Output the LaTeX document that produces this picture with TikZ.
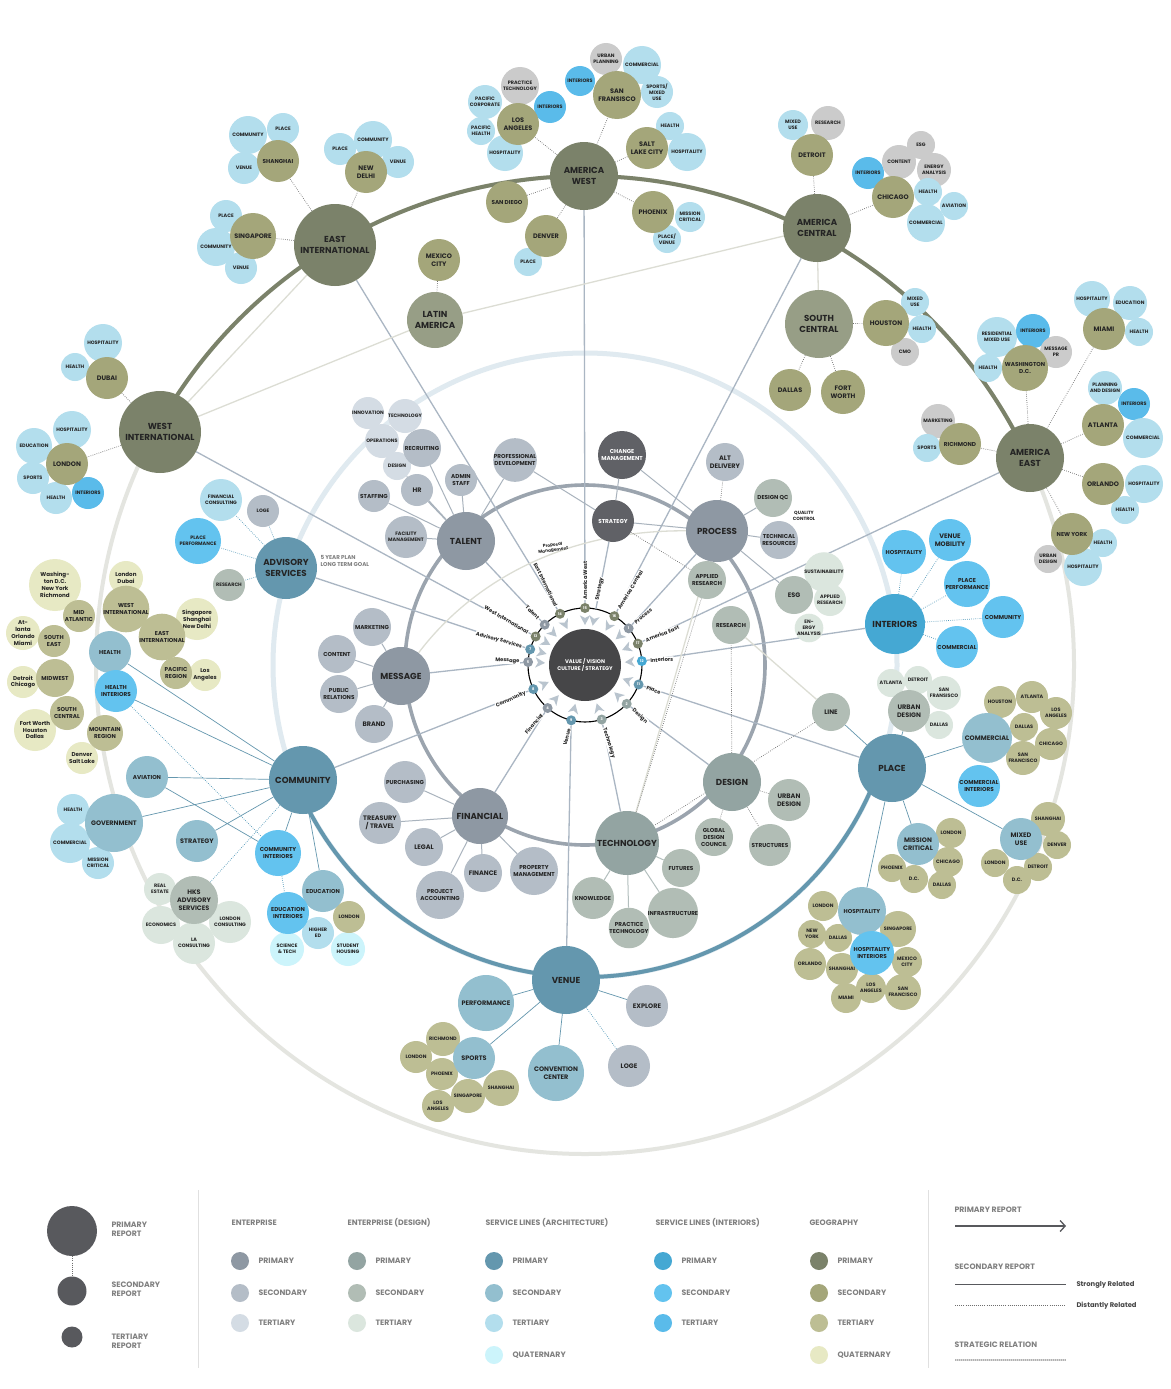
\documentclass[tikz,border=0pt]{standalone}
\usepackage{fontspec}
\setmainfont{Poppins}
\usetikzlibrary{arrows.meta}
\definecolor{entP}{HTML}{8E98A3}
\definecolor{entS}{HTML}{B4BDC7}
\definecolor{entT}{HTML}{D4DCE4}
\definecolor{desP}{HTML}{93A4A2}
\definecolor{desS}{HTML}{B1BDB5}
\definecolor{desT}{HTML}{DBE6DE}
\definecolor{arcP}{HTML}{6497AE}
\definecolor{arcS}{HTML}{93BFCF}
\definecolor{arcT}{HTML}{B3DEED}
\definecolor{arcQ}{HTML}{CCF4FB}
\definecolor{intP}{HTML}{45A8D3}
\definecolor{intS}{HTML}{63C3EF}
\definecolor{intT}{HTML}{5ABBEA}
\definecolor{geoP}{HTML}{7B826A}
\definecolor{geoL}{HTML}{979E86}
\definecolor{geoS}{HTML}{A4A67A}
\definecolor{geoT}{HTML}{BDBE94}
\definecolor{geoQ}{HTML}{E7E9C4}
\definecolor{gryT}{HTML}{CBCBCB}
\definecolor{dkG}{HTML}{606166}
\definecolor{hubC}{HTML}{464648}
\definecolor{txt}{HTML}{242424}
\definecolor{lgC}{HTML}{58595D}
\definecolor{lgT}{HTML}{808080}
\definecolor{ringO}{HTML}{E4E5E0}
\definecolor{ringB}{HTML}{E0EAF0}
\definecolor{ringE}{HTML}{9BA4AE}
\definecolor{lineE}{HTML}{A9B3BD}
\definecolor{lineP}{HTML}{AAB6C3}
\definecolor{lineF}{HTML}{DCDDD4}
\definecolor{lineD}{HTML}{6E6E6E}
\definecolor{lineB}{HTML}{4F97B8}
\definecolor{arrC}{HTML}{B9C4CE}
\pgfdeclarelayer{back}
\pgfdeclarelayer{mid}
\pgfsetlayers{back,mid,main}
\tikzset{
  bub/.style={circle,inner sep=0pt,align=center,text=txt},
  fT/.style={font=\bfseries\fontsize{4.9}{6.1}\selectfont},
  fS/.style={font=\bfseries\fontsize{5.7}{7}\selectfont},
  f3/.style={font=\bfseries\fontsize{6.5}{8.1}\selectfont},
  f5/.style={font=\bfseries\fontsize{8.7}{11.2}\selectfont},
  fQ/.style={font=\bfseries\fontsize{5.6}{6.9}\selectfont},
  dl/.style={draw=lineD,line width=0.7pt,dash pattern=on 0.7pt off 1.4pt},
  bl/.style={draw=lineB,line width=0.7pt,dash pattern=on 0.7pt off 1.4pt},
  el/.style={draw=lineE,line width=1pt},
  gl/.style={draw=desP!70,line width=1pt},
  al/.style={draw=arcP,line width=0.7pt},
  fl/.style={draw=lineF,line width=1.3pt},
  pl/.style={draw=lineP,line width=1.3pt},
  hdot/.style={circle,inner sep=0pt,minimum size=10pt,text=white,font=\bfseries\fontsize{3.6}{3.6}\selectfont},
  hlab/.style={fill=white,inner sep=0.5pt,text=txt,font=\bfseries\fontsize{5.2}{5.8}\selectfont},
  lt/.style={anchor=west,align=left,text=lgT,font=\bfseries\fontsize{7.8}{9.4}\selectfont},
  ls/.style={anchor=west,align=left,text=txt!85,font=\bfseries\fontsize{6.8}{8}\selectfont},
  ldot/.style={circle,inner sep=0pt,minimum size=18pt},
}
\newcommand\B[6][fT]{\node[bub,#1,fill=#5,minimum size=2*#4pt] (#2) at (#3) {#6};}
\newcommand\HR[6]{%
  \node[hdot,fill=#3] (#2) at ([shift={(#1:57)}]585,-665) {#4};
  \node[hlab,rotate=#1,anchor=west] (#2l) at ([shift={(#1:65)}]585,-665) {#5};
  \begin{pgfonlayer}{mid}\draw[pl] (#6) -- (#2);\end{pgfonlayer}}
\newcommand\HL[6]{%
  \node[hdot,fill=#3] (#2) at ([shift={(#1:57)}]585,-665) {#4};
  \node[hlab,rotate=#1-180,anchor=east] (#2l) at ([shift={(#1:65)}]585,-665) {#5};
  \begin{pgfonlayer}{mid}\draw[pl] (#6) -- (#2);\end{pgfonlayer}}
\begin{document}
\begin{tikzpicture}[x=1pt,y=1pt]
\useasboundingbox (0,0) rectangle (1170,-1389);
\begin{pgfonlayer}{back}
  \fill[white] (0,0) rectangle (1170,-1389);
  \draw[ringO,line width=4pt] (585,-665) circle[radius=489];
  \draw[geoP,line width=4pt] ([shift={(151.4:489)}]585,-665) arc[start angle=151.4,end angle=25,radius=489];
  \draw[ringB,line width=5pt] (585,-665) circle[radius=312];
  \draw[arcP,line width=4pt] ([shift={(202.4:312)}]585,-665) arc[start angle=202.4,end angle=341.5,radius=312];
  \draw[ringE,line width=3.6pt] (585,-665) circle[radius=180];
\end{pgfonlayer}

% ---------- East International
\B{eiShC}{248,-135}{19}{arcT}{COMMUNITY}
\B{eiShP}{283,-129}{16}{arcT}{PLACE}
\B{eiShV}{244,-168}{16}{arcT}{VENUE}
\B[fS]{eiSh}{278,-161}{21}{geoS}{SHANGHAI}
\B{eiNdP}{340,-149}{16}{arcT}{PLACE}
\B{eiNdC}{373,-140}{19}{arcT}{COMMUNITY}
\B{eiNdV}{398,-162}{16}{arcT}{VENUE}
\B[f3]{eiNd}{366,-172}{21}{geoS}{NEW\\DELHI}
\B{eiSgP}{226,-216}{16}{arcT}{PLACE}
\B{eiSgC}{216,-247}{19}{arcT}{COMMUNITY}
\B{eiSgV}{241,-268}{16}{arcT}{VENUE}
\B[f3]{eiSg}{253,-236}{23}{geoS}{SINGAPORE}
\B[f5]{EI}{335,-245}{41}{geoP}{EAST\\INTERNATIONAL}

% ---------- America West
\B{awLaPC}{485,-102}{17}{arcT}{PACIFIC\\CORPORATE}
\B{awLaPT}{520,-86}{19}{gryT}{PRACTICE\\TECHNOLOGY}
\B{awLaI}{550,-107}{16}{intT}{INTERIORS}
\B{awLaPH}{481,-131}{14}{arcT}{PACIFIC\\HEALTH}
\B{awLaH}{505,-153}{18}{arcT}{HOSPITALITY}
\B[f3]{awLa}{518,-124}{21}{geoS}{LOS\\ANGELES}
\B{awSfU}{606,-59}{16}{gryT}{URBAN\\PLANNING}
\B{awSfC}{642,-65}{19}{arcT}{COMMERCIAL}
\B{awSfI}{580,-81}{15}{intT}{INTERIORS}
\B{awSfS}{657,-92}{16}{arcT}{SPORTS/\\MIXED\\USE}
\B[f3]{awSf}{617,-95}{24}{geoS}{SAN\\FRANSISCO}
\B{awSlH}{670,-126}{14}{arcT}{HEALTH}
\B{awSlHo}{687,-152}{19}{arcT}{HOSPITALITY}
\B[f3]{awSl}{647,-148}{21}{geoS}{SALT\\LAKE CITY}
\B[fS]{awSd}{507,-202}{21}{geoS}{SAN DIEGO}
\B{awDeP}{528,-262}{14}{arcT}{PLACE}
\B[f3]{awDe}{546,-236}{21}{geoS}{DENVER}
\B{awPhM}{690,-217}{15}{arcT}{MISSION\\CRITICAL}
\B{awPhP}{667,-239}{14}{arcT}{PLACE/\\VENUE}
\B[f3]{awPh}{653,-212}{21}{geoS}{PHOENIX}
\B[f5]{AW}{584,-176}{34}{geoP}{AMERICA\\WEST}

% ---------- Latin America
\B[f3]{mxc}{439,-260}{21}{geoS}{MEXICO\\CITY}
\B[f5]{LA}{435,-320}{28}{geoL}{LATIN\\AMERICA}

% ---------- America Central
\B{acDeM}{793,-125}{15}{arcT}{MIXED\\USE}
\B{acDeR}{828,-123}{17}{gryT}{RESEARCH}
\B[f3]{acDe}{812,-155}{21}{geoS}{DETROIT}
\B{acChI}{868,-173}{16}{intT}{INTERIORS}
\B{acChE}{921,-145}{14}{gryT}{ESG}
\B{acChC}{899,-162}{17}{gryT}{CONTENT}
\B{acChEA}{934,-170}{17}{gryT}{ENERGY\\ANALYSIS}
\B{acChA}{954,-206}{14}{arcT}{AVIATION}
\B{acChCo}{926,-223}{19}{arcT}{COMMERCIAL}
\B{acChH}{928,-192}{14}{arcT}{HEALTH}
\B[f3]{acCh}{893,-197}{21}{geoS}{CHICAGO}
\B[f5]{AC}{817,-228}{34}{geoP}{AMERICA\\CENTRAL}
\B{scHoM}{915,-302}{14}{arcT}{MIXED\\USE}
\B{scHoH}{922,-329}{14}{arcT}{HEALTH}
\B{scHoC}{905,-352}{14}{gryT}{CMO}
\B[f3]{scHo}{886,-323}{23}{geoS}{HOUSTON}
\B[f3]{scDa}{790,-390}{21}{geoS}{DALLAS}
\B[f3]{scFw}{843,-392}{22}{geoS}{FORT\\WORTH}
\B[f5]{SC}{819,-324}{34}{geoL}{SOUTH\\CENTRAL}

% ---------- America East
\B{aeDcR}{997,-337}{20}{arcT}{RESIDENTIAL\\MIXED USE}
\B{aeDcI}{1033,-331}{17}{intT}{INTERIORS}
\B{aeDcM}{1056,-352}{16}{gryT}{MESSAGE\\PR}
\B{aeDcH}{988,-368}{14}{arcT}{HEALTH}
\B[fS]{aeDc}{1025,-368}{23}{geoS}{WASHINGTON\\D.C.}
\B{aeMiH}{1092,-299}{18}{arcT}{HOSPITALITY}
\B{aeMiE}{1130,-303}{17}{arcT}{EDUCATION}
\B{aeMiHe}{1139,-332}{14}{arcT}{HEALTH}
\B[f3]{aeMi}{1104,-329}{21}{geoS}{MIAMI}
\B{aeAtP}{1105,-388}{17}{arcT}{PLANNING\\AND DESIGN}
\B{aeAtI}{1134,-404}{16}{intT}{INTERIORS}
\B{aeAtC}{1143,-438}{20}{arcT}{COMMERCIAL}
\B[f3]{aeAt}{1103,-425}{21}{geoS}{ATLANTA}
\B{aeOrH}{1144,-484}{19}{arcT}{HOSPITALITY}
\B{aeOrHe}{1125,-510}{14}{arcT}{HEALTH}
\B[f3]{aeOr}{1103,-484}{21}{geoS}{ORLANDO}
\B{aeNyH}{1103,-543}{14}{arcT}{HEALTH}
\B{aeNyHo}{1083,-567}{19}{arcT}{HOSPITALITY}
\B{aeNyU}{1048,-559}{14}{gryT}{URBAN\\DESIGN}
\B[fS]{aeNy}{1072,-534}{21}{geoS}{NEW YORK}
\B{aeRiM}{938,-421}{17}{gryT}{MARKETING}
\B{aeRiS}{927,-448}{14}{arcT}{SPORTS}
\B[fS]{aeRi}{960,-444}{21}{geoS}{RICHMOND}
\B[f5]{AE}{1030,-458}{34}{geoP}{AMERICA\\EAST}

% ---------- West International
\B{wiDuH}{103,-343}{19}{arcT}{HOSPITALITY}
\B{wiDuHe}{75,-367}{14}{arcT}{HEALTH}
\B[f3]{wiDu}{107,-378}{21}{geoS}{DUBAI}
\B{wiLoHo}{72,-430}{19}{arcT}{HOSPITALITY}
\B{wiLoE}{34,-446}{18}{arcT}{EDUCATION}
\B{wiLoS}{33,-478}{16}{arcT}{SPORTS}
\B{wiLoH}{56,-498}{16}{arcT}{HEALTH}
\B{wiLoI}{88,-493}{16}{intT}{INTERIORS}
\B[f3]{wiLo}{67,-464}{21}{geoS}{LONDON}
\B[f5]{WI}{160,-432}{41}{geoP}{WEST\\INTERNATIONAL}

% ---------- Advisory services
\B{avFC}{221,-500}{21}{arcT}{FINANCIAL\\CONSULTING}
\B{avLo}{263,-511}{16}{entS}{LOGE}
\B{avPP}{198,-541}{23}{intS}{PLACE\\PERFORMANCE}
\B{avRe}{229,-585}{16}{desS}{RESEARCH}
\B[f5]{ADV}{286,-568}{31}{arcP}{ADVISORY\\SERVICES}
\node[anchor=west,align=left,text=lgT,font=\bfseries\fontsize{5.6}{7}\selectfont] (advNote) at (317,-561) {5 YEAR PLAN\\LONG TERM GOAL};

% ---------- geography regions (left)
\B[fQ]{gq1}{55,-585}{26}{geoQ}{Washing-\\ton D.C.\\New York\\Richmond}
\B[fQ]{gq2}{126,-578}{17}{geoQ}{London\\Dubai}
\B[fQ]{gq3}{197,-619}{21}{geoQ}{Singapore\\Shanghai\\New Delhi}
\B[fQ]{gq4}{23,-633}{17}{geoQ}{At-\\lanta\\Orlando\\Miami}
\B[fQ]{gq5}{23,-682}{16}{geoQ}{Detroit\\Chicago}
\B[fQ]{gq6}{205,-675}{16}{geoQ}{Los\\Angeles}
\B[fQ]{gq7}{35,-730}{21}{geoQ}{Fort Worth\\Houston\\Dallas}
\B[fQ]{gq8}{82,-758}{16}{geoQ}{Denver\\Salt Lake}
\B[fS]{gt1}{79,-616}{16}{geoT}{MID\\ATLANTIC}
\B[fS]{gt2}{126,-609}{20}{geoT}{WEST\\INTERNATIONAL}
\B[fS]{gt3}{162,-637}{20}{geoT}{EAST\\INTERNATIONAL}
\B[fS]{gt4}{54,-641}{16}{geoT}{SOUTH\\EAST}
\B[fS]{gt5}{55,-678}{19}{geoT}{MIDWEST}
\B[fS]{gt6}{176,-673}{16}{geoT}{PACIFIC\\REGION}
\B[fS]{gt7}{67,-713}{17}{geoT}{SOUTH\\CENTRAL}
\B[fS]{gt8}{105,-733}{18}{geoT}{MOUNTAIN\\REGION}

% ---------- Community
\B[fS]{cmHe}{110,-652}{21}{arcS}{HEALTH}
\B[fS]{cmHI}{116,-691}{21}{intS}{HEALTH\\INTERIORS}
\B[fS]{cmAv}{147,-777}{21}{arcS}{AVIATION}
\B{cmGoH}{73,-810}{16}{arcT}{HEALTH}
\B{cmGoC}{70,-843}{20}{arcT}{COMMERCIAL}
\B{cmGoM}{98,-863}{16}{arcT}{MISSION\\CRITICAL}
\B[f3]{cmGo}{114,-823}{29}{arcS}{GOVERNMENT}
\B[f3]{cmSt}{197,-841}{21}{arcS}{STRATEGY}
\B[fS]{cmCI}{278,-853}{23}{intS}{COMMUNITY\\INTERIORS}
\B{cmHE}{318,-933}{16}{arcT}{HIGHER\\ED}
\B{cmST}{287,-949}{17}{arcQ}{SCIENCE\\\& TECH}
\B{cmSH}{348,-949}{17}{arcQ}{STUDENT\\HOUSING}
\B{cmLo}{349,-917}{16}{geoT}{LONDON}
\B[fS]{cmEd}{323,-891}{21}{arcS}{EDUCATION}
\B[fS]{cmEI}{288,-913}{21}{intS}{EDUCATION\\INTERIORS}
\B{hkRE}{160,-889}{16}{desT}{REAL\\ESTATE}
\B{hkEc}{161,-925}{19}{desT}{ECONOMICS}
\B{hkLC}{230,-922}{21}{desT}{LONDON\\CONSULTING}
\B{hkLA}{194,-943}{21}{desT}{LA\\CONSULTING}
\B[f3]{hk}{194,-900}{24}{desS}{HKS\\ADVISORY\\SERVICES}
\B[f5]{CM}{303,-780}{34}{arcP}{COMMUNITY}

% ---------- Talent
\B{tInn}{368,-413}{16}{entT}{INNOVATION}
\B{tTec}{405,-416}{17}{entT}{TECHNOLOGY}
\B{tOps}{382,-441}{17}{entT}{OPERATIONS}
\B{tDes}{397,-466}{14}{entT}{DESIGN}
\B[fS]{tRec}{422,-448}{19}{entS}{RECRUITING}
\B[fS]{tAd}{461,-480}{16}{entS}{ADMIN\\STAFF}
\B[f3]{tHR}{417,-490}{16}{entS}{HR}
\B[fS]{tSt}{374,-496}{16}{entS}{STAFFING}
\B[fT]{tFM}{406,-537}{21}{entS}{FACILITY\\MANAGEMENT}
\B[fS]{tPD}{515,-460}{21}{entS}{PROFESSIONAL\\DEVELOPMENT}
\B[f5]{TA}{466,-541}{29}{entP}{TALENT}

% ---------- Message
\B[fS]{mMk}{372,-627}{19}{entS}{MARKETING}
\B[fS]{mCo}{337,-654}{19}{entS}{CONTENT}
\B[fS]{mPR}{339,-694}{19}{entS}{PUBLIC\\RELATIONS}
\B[f3]{mBr}{374,-724}{19}{entS}{BRAND}
\B[f5]{ME}{401,-676}{29}{entP}{MESSAGE}

% ---------- Financial
\B[fS]{fPu}{405,-782}{21}{entS}{PURCHASING}
\B[f3]{fTr}{380,-823}{21}{entS}{TREASURY\\/ TRAVEL}
\B[f3]{fLe}{424,-847}{19}{entS}{LEGAL}
\B[fS]{fPA}{440,-895}{24}{entS}{PROJECT\\ACCOUNTING}
\B[f3]{fFi}{483,-873}{19}{entS}{FINANCE}
\B[fS]{fPM}{534,-871}{24}{entS}{PROPERTY\\MANAGEMENT}
\B[f5]{FI}{480,-816}{28}{entP}{FINANCIAL}

% ---------- Technology
\B[fS]{tcKn}{593,-898}{21}{desS}{KNOWLEDGE}
\B[fS]{tcPT}{629,-928}{19}{desS}{PRACTICE\\TECHNOLOGY}
\B[fS]{tcIn}{673,-913}{21}{desS}{INFRASTRUCTURE}
\B[fS]{tcFu}{681,-868}{19}{desS}{FUTURES}
\B[fS]{tcGD}{714,-837}{19}{desS}{GLOBAL\\DESIGN\\COUNCIL}
\B[f5]{TE}{627,-843}{32}{desP}{TECHNOLOGY}

% ---------- Design
\B[f3]{dUD}{789,-800}{21}{desS}{URBAN\\DESIGN}
\B[fS]{dSt}{770,-845}{21}{desS}{STRUCTURES}
\B[fS]{dRe}{731,-625}{19}{desS}{RESEARCH}
\B[f5]{DE}{732,-782}{29}{desP}{DESIGN}

% ---------- Process
\B[f3]{pAD}{725,-462}{19}{entS}{ALT\\DELIVERY}
\B[fS]{pQC}{773,-498}{19}{desS}{DESIGN QC}
\B[fS]{pTR}{779,-540}{19}{entS}{TECHNICAL\\RESOURCES}
\node[align=center,text=txt,font=\bfseries\fontsize{4.6}{5.6}\selectfont] (qc) at (804,-516) {QUALITY\\CONTROL};
\B[fS]{pAR}{707,-580}{19}{desS}{APPLIED\\RESEARCH}
\B{esS}{824,-572}{15}{desT}{SUSTAINABILITY}
\B{esA}{830,-600}{16}{desT}{APPLIED\\RESEARCH}
\B{esE}{809,-628}{14}{desT}{EN-\\ERGY\\ANALYSIS}
\B[f3]{pES}{794,-595}{19}{desS}{ESG}
\B[fS,text=white]{cMg}{622,-455}{24}{dkG}{CHANGE\\MANAGEMENT}
\B[fS,text=white]{sTr}{613,-521}{21}{dkG}{STRATEGY}
\B[f5]{PR}{717,-531}{31}{entP}{PROCESS}

% ---------- Interiors
\B[fS]{iHo}{904,-552}{22}{intS}{HOSPITALITY}
\B[f3]{iVM}{950,-540}{21}{intS}{VENUE\\MOBILITY}
\B[fS]{iPP}{967,-584}{23}{intS}{PLACE\\PERFORMANCE}
\B[fS]{iCo}{1003,-617}{21}{intS}{COMMUNITY}
\B[fS]{iCm}{957,-647}{21}{intS}{COMMERCIAL}
\B[f5]{IN}{895,-624}{30}{intP}{INTERIORS}

% ---------- Place
\B[f3]{plLi}{831,-712}{19}{desS}{LINE}
\B{plUa}{891,-683}{14}{desT}{ATLANTA}
\B{plUd}{918,-680}{14}{desT}{DETROIT}
\B{plUs}{944,-693}{17}{desT}{SAN\\FRANSISCO}
\B{plUl}{939,-725}{14}{desT}{DALLAS}
\B[f3]{plUD}{909,-711}{21}{desS}{URBAN\\DESIGN}
\B{plCh}{1000,-702}{16}{geoT}{HOUSTON}
\B{plCa}{1032,-697}{16}{geoT}{ATLANTA}
\B{plCl}{1056,-713}{16}{geoT}{LOS\\ANGELES}
\B{plCd}{1024,-727}{14}{geoT}{DALLAS}
\B{plCc}{1051,-744}{16}{geoT}{CHICAGO}
\B{plCs}{1023,-758}{17}{geoT}{SAN\\FRANCISCO}
\B[f3]{plCo}{987,-738}{25}{arcS}{COMMERCIAL}
\B[fS]{plCI}{979,-786}{21}{intS}{COMMERCIAL\\INTERIORS}
\B{plMl}{951,-833}{15}{geoT}{LONDON}
\B{plMc}{948,-862}{15}{geoT}{CHICAGO}
\B{plMp}{892,-868}{14}{geoT}{PHOENIX}
\B{plMd}{914,-879}{14}{geoT}{D.C.}
\B{plMa}{942,-885}{14}{geoT}{DALLAS}
\B[f3]{plMC}{918,-844}{21}{arcS}{MISSION\\CRITICAL}
\B{plXs}{1048,-819}{17}{geoT}{SHANGHAI}
\B{plXd}{1057,-845}{14}{geoT}{DENVER}
\B{plXt}{1038,-867}{14}{geoT}{DETROIT}
\B{plXc}{1017,-880}{14}{geoT}{D.C.}
\B{plXl}{995,-863}{14}{geoT}{LONDON}
\B[f3]{plMU}{1021,-839}{21}{arcS}{MIXED\\USE}
\B{plHl}{823,-906}{15}{geoT}{LONDON}
\B{plHn}{812,-934}{14}{geoT}{NEW\\YORK}
\B{plHd}{838,-938}{14}{geoT}{DALLAS}
\B{plHs}{898,-929}{18}{geoT}{SINGAPORE}
\B{plHo}{810,-964}{16}{geoT}{ORLANDO}
\B{plHsh}{842,-969}{16}{geoT}{SHANGHAI}
\B{plHm}{907,-962}{15}{geoT}{MEXICO\\CITY}
\B{plHla}{871,-988}{15}{geoT}{LOS\\ANGELES}
\B{plHsf}{903,-992}{18}{geoT}{SAN\\FRANCISCO}
\B{plHmi}{846,-998}{15}{geoT}{MIAMI}
\B[fS]{plHo2}{862,-911}{24}{arcS}{HOSPITALITY}
\B[fS]{plHI}{872,-953}{22}{intS}{HOSPITALITY\\INTERIORS}
\B[f5]{PL}{892,-768}{34}{arcP}{PLACE}

% ---------- Venue
\B[f3]{vPe}{486,-1003}{28}{arcS}{PERFORMANCE}
\B[f3]{vEx}{647,-1006}{21}{entS}{EXPLORE}
\B[f3]{vLo}{629,-1066}{21}{entS}{LOGE}
\B[f3]{vCC}{556,-1073}{28}{arcS}{CONVENTION\\CENTER}
\B{vSr}{443,-1039}{17}{geoT}{RICHMOND}
\B{vSl}{416,-1057}{16}{geoT}{LONDON}
\B{vSp}{442,-1074}{16}{geoT}{PHOENIX}
\B{vSs}{468,-1096}{17}{geoT}{SINGAPORE}
\B{vSsh}{501,-1088}{18}{geoT}{SHANGHAI}
\B{vSla}{438,-1106}{16}{geoT}{LOS\\ANGELES}
\B[f3]{vSp2}{474,-1058}{21}{arcS}{SPORTS}
\B[f5]{VE}{566,-980}{34}{arcP}{VENUE}

% ---------- hub
\node[circle,inner sep=0pt,minimum size=72pt,fill=hubC,text=white,align=center,font=\bfseries\fontsize{5.3}{7}\selectfont] (hub) at (585,-665) {VALUE / VISION\\CULTURE / STRATEGY};
\begin{pgfonlayer}{mid}
  \draw[black,line width=1.1pt] (585,-665) circle[radius=57];
\end{pgfonlayer}
\foreach \a in {116,90,79,59,40,22,4,-20,-43,-73,-104,-131,-155,177,164,150,135}{
  \fill[arrC] ([shift={(\a:40)}]585,-665) -- ([shift={(\a+6:50)}]585,-665) -- ([shift={(\a:47)}]585,-665) -- ([shift={(\a-6:50)}]585,-665) -- cycle;
}
\HL{116}{d14}{geoP}{14}{East International}{EI}
\HR{90}{d15}{geoP}{15}{America West}{AW}
\HR{59}{d16}{geoP}{16}{America Central}{AC}
\HR{40}{d1}{entP}{1}{Process}{PR}
\HR{22}{d17}{geoP}{17}{America East}{AE}
\HR{4}{d12}{intP}{12}{Interiors}{IN}
\HR{-20}{d11}{arcP}{11}{Place}{PL}
\HR{-43}{d2}{desP}{2}{Design}{DE}
\HR{-73}{d3}{desP}{3}{Technology}{TE}
\HL{-104}{d9}{arcP}{9}{Venue}{VE}
\HL{-131}{d4}{entP}{4}{Financial}{FI}
\HL{-155}{d8}{arcP}{8}{Community}{CM}
\HL{177}{d5}{entP}{5}{Message}{ME}
\HL{164}{d7}{arcP}{7}{Advisory Services}{ADV}
\HL{150}{d13}{geoP}{13}{West International}{WI}
\HL{135}{d6}{entP}{6}{Talent}{TA}
\coordinate (sx) at ([shift={(79:57)}]585,-665);
\node[hlab,rotate=79,anchor=west] (sxl) at ([shift={(79:65)}]585,-665) {Strategy};
\node[align=center,rotate=8,text=txt,font=\bfseries\fontsize{4.3}{5}\selectfont] (ppm) at (553,-548) {Proposal\\Management};

% ---------- connectors
\begin{pgfonlayer}{mid}
  \draw[pl] (sTr) -- (sx);
  \draw[fl] (ME) .. controls (470,-585) and (560,-530) .. (PR);
  \draw[fl] (WI) -- (EI) (WI) -- (LA) (LA) -- (AC) (AC) -- (SC);
  \draw[dl] (EI)--(eiSh) (EI)--(eiNd) (EI)--(eiSg);
  \draw[dl] (AW)--(awLa) (AW)--(awSf) (AW)--(awSl) (AW)--(awSd) (AW)--(awDe) (AW)--(awPh);
  \draw[dl] (mxc)--(LA);
  \draw[dl] (AC)--(acDe) (AC)--(acCh);
  \draw[dl] (SC)--(scHo) (SC)--(scDa) (SC)--(scFw);
  \draw[dl] (AE)--(aeDc) (AE)--(aeMi) (AE)--(aeAt) (AE)--(aeOr) (AE)--(aeNy) (AE)--(aeRi);
  \draw[dl] (WI)--(wiDu) (WI)--(wiLo);
  \draw[bl] (ADV)--(avFC) (ADV)--(avLo) (ADV)--(avPP) (ADV)--(avRe);
  \draw[el] (TA)--(tRec) (TA)--(tAd) (TA)--(tHR) (TA)--(tFM) (TA)--(tSt) (TA)--(tPD) (TA)--(tDes);
  \draw[el] (tPD)--(sTr) (sTr)--(cMg) (sTr)--(PR) (cMg)--(PR);
  \draw[el] (ME)--(mMk) (ME)--(mCo) (ME)--(mPR) (ME)--(mBr);
  \draw[el] (FI)--(fPu) (FI)--(fTr) (FI)--(fLe) (FI)--(fPA) (FI)--(fFi) (FI)--(fPM);
  \draw[gl] (TE)--(tcKn) (TE)--(tcPT) (TE)--(tcIn) (TE)--(tcFu);
  \draw[fl] (TE)--(PR) (dRe)--(plLi);
  \draw[dl] (DE)--(tcGD) (DE)--(dSt) (DE)--(dUD) (DE)--(dRe) (TE)--(pAR) (plLi)--(TE) (sTr)--(pAR);
  \draw[dl] (PR)--(pAD);
  \draw[el] (PR)--(pQC) (PR)--(pTR) (PR)--(pAR) (PR)--(pES);
  \draw[bl] (IN)--(iHo) (IN)--(iVM) (IN)--(iPP) (IN)--(iCo) (IN)--(iCm);
  \draw[al] (PL)--(plLi) (PL)--(plUD) (PL)--(plCo) (PL)--(plMC) (PL)--(plMU) (PL)--(plHo2);
  \draw[al] (VE)--(vPe) (VE)--(vSp2) (VE)--(vCC) (VE)--(vEx);
  \draw[bl] (VE)--(vLo);
  \draw[al] (CM)--(cmHe) (CM)--(cmHI) (CM)--(cmAv) (CM)--(cmGo) (CM)--(cmSt) (CM)--(cmCI) (CM)--(cmEd) (cmAv)--(cmCI);
  \draw[bl] (hk)--(CM) (cmCI)--(cmEI) (cmHI)--(cmCI);
\end{pgfonlayer}

% ---------- legend
\coordinate (sepA1) at (198,-1190); \coordinate (sepA2) at (198,-1368);
\coordinate (sepB1) at (928,-1190); \coordinate (sepB2) at (928,-1368);
\draw[black!12,line width=0.8pt] (sepA1) -- (sepA2) (sepB1) -- (sepB2);
\node[circle,inner sep=0pt,minimum size=50pt,fill=lgC] (lg1) at (72,-1231) {};
\node[circle,inner sep=0pt,minimum size=29pt,fill=lgC] (lg2) at (72,-1291) {};
\node[circle,inner sep=0pt,minimum size=21pt,fill=lgC] (lg3) at (72,-1337) {};
\draw[dl] (lg1) -- (lg2);
\node[lt] (lt1) at (108,-1229) {PRIMARY\\REPORT};
\node[lt] (lt2) at (108,-1289) {SECONDARY\\REPORT};
\node[lt] (lt3) at (108,-1341) {TERTIARY\\REPORT};
\node[lt] (h1) at (228,-1223) {ENTERPRISE};
\node[lt] (h2) at (344,-1223) {ENTERPRISE (DESIGN)};
\node[lt] (h3) at (482,-1223) {SERVICE LINES (ARCHITECTURE)};
\node[lt] (h4) at (652,-1223) {SERVICE LINES (INTERIORS)};
\node[lt] (h5) at (806,-1223) {GEOGRAPHY};
\node[ldot,fill=entP] (e1) at (240,-1261) {}; \node[lt] (e1t) at (255,-1261) {PRIMARY};
\node[ldot,fill=entS] (e2) at (240,-1293) {}; \node[lt] (e2t) at (255,-1293) {SECONDARY};
\node[ldot,fill=entT] (e3) at (240,-1323) {}; \node[lt] (e3t) at (255,-1323) {TERTIARY};
\node[ldot,fill=desP] (g1) at (357,-1261) {}; \node[lt] (g1t) at (372,-1261) {PRIMARY};
\node[ldot,fill=desS] (g2) at (357,-1293) {}; \node[lt] (g2t) at (372,-1293) {SECONDARY};
\node[ldot,fill=desT] (g3) at (357,-1323) {}; \node[lt] (g3t) at (372,-1323) {TERTIARY};
\node[ldot,fill=arcP] (a1) at (494,-1261) {}; \node[lt] (a1t) at (509,-1261) {PRIMARY};
\node[ldot,fill=arcS] (a2) at (494,-1293) {}; \node[lt] (a2t) at (509,-1293) {SECONDARY};
\node[ldot,fill=arcT] (a3) at (494,-1323) {}; \node[lt] (a3t) at (509,-1323) {TERTIARY};
\node[ldot,fill=arcQ] (a4) at (494,-1355) {}; \node[lt] (a4t) at (509,-1355) {QUATERNARY};
\node[ldot,fill=intP] (i1) at (663,-1261) {}; \node[lt] (i1t) at (678,-1261) {PRIMARY};
\node[ldot,fill=intS] (i2) at (663,-1293) {}; \node[lt] (i2t) at (678,-1293) {SECONDARY};
\node[ldot,fill=intT] (i3) at (663,-1323) {}; \node[lt] (i3t) at (678,-1323) {TERTIARY};
\node[ldot,fill=geoP] (o1) at (819,-1261) {}; \node[lt] (o1t) at (834,-1261) {PRIMARY};
\node[ldot,fill=geoS] (o2) at (819,-1293) {}; \node[lt] (o2t) at (834,-1293) {SECONDARY};
\node[ldot,fill=geoT] (o3) at (819,-1323) {}; \node[lt] (o3t) at (834,-1323) {TERTIARY};
\node[ldot,fill=geoQ] (o4) at (819,-1355) {}; \node[lt] (o4t) at (834,-1355) {QUATERNARY};
\node[lt] (r1) at (951,-1210) {PRIMARY REPORT};
\coordinate (pa1) at (955,-1226); \coordinate (pa2) at (1066,-1226);
\draw[lgC,line width=1.6pt,-{Straight Barb[length=5pt,width=11pt,line width=1.3pt]}] (pa1) -- (pa2);
\node[lt] (r2) at (951,-1267) {SECONDARY REPORT};
\coordinate (sa1) at (955,-1284); \coordinate (sa2) at (1066,-1284);
\draw[lgC,line width=1pt] (sa1) -- (sa2);
\node[ls] (r2a) at (1073,-1285) {Strongly Related};
\coordinate (da1) at (955,-1305); \coordinate (da2) at (1066,-1305);
\draw[dl] (da1) -- (da2);
\node[ls] (r2b) at (1073,-1306) {Distantly Related};
\node[lt] (r3) at (951,-1345) {STRATEGIC RELATION};
\coordinate (ha1) at (955,-1360); \coordinate (ha2) at (1066,-1360);
\draw[black!15,line width=2.4pt] (ha1) -- (ha2);
\draw[black!30,line width=2.4pt,dash pattern=on 0.5pt off 1.5pt] (ha1) -- (ha2);
\end{tikzpicture}
\end{document}
